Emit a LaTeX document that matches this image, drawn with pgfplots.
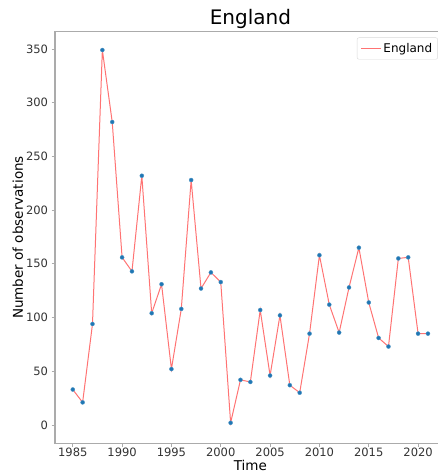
\documentclass[border=0pt]{standalone}
\usepackage{pgfplots}
\pgfplotsset{compat=1.18}
\usepackage{fontspec}
\setmainfont{DejaVu Sans}
\definecolor{spine}{HTML}{ABABAB}
\definecolor{mplblue}{HTML}{1F77B4}
\definecolor{ticktext}{HTML}{333333}

\pgfplotstableread{
year count
1985 33
1986 21
1987 94
1988 349
1989 282
1990 156
1991 143
1992 232
1993 104
1994 131
1995 52
1996 108
1997 228
1998 127
1999 142
2000 133
2001 2
2002 42
2003 40
2004 107
2005 46
2006 102
2007 37
2008 30
2009 85
2010 158
2011 112
2012 86
2013 128
2014 165
2015 114
2016 81
2017 73
2018 155
2019 156
2020 85
2021 85
}\englanddata

\begin{document}
\begin{tikzpicture}[x=1pt,y=1pt]
\useasboundingbox (-55,-29.3) rectangle (383,443.7);
\clip (-55,-29.3) rectangle (383,443.7);
\begin{axis}[
  at={(0,0)}, anchor=south west,
  scale only axis,
  width=390.7pt, height=412.4pt,
  xmin=1983.2, xmax=2022.8,
  ymin=-17.45, ymax=366.45,
  xtick={1985,1990,...,2020},
  ytick={0,50,...,350},
  /pgf/number format/set thousands separator={},
  /pgf/number format/assume math mode=true,
  tick align=outside,
  tick pos=left,
  major tick length=3.5pt,
  tick style={spine, line width=0.8pt},
  axis line style={spine, line width=1.5pt},
  ticklabel style={font=\fontsize{11.5}{13}\selectfont, text=ticktext},
  xticklabel style={inner sep=1pt},
  xlabel={Time},
  ylabel={Number of observations},
  label style={font=\fontsize{13.5}{15}\selectfont},
  xlabel style={at={(axis description cs:0.5,0)}, anchor=south, yshift=-27.3pt, inner sep=0pt},
  ylabel style={yshift=-4pt},
  title={England},
  title style={font=\fontsize{20}{24}\selectfont, yshift=-7pt},
  legend style={at={(0.98,0.985)}, anchor=north east, draw=black!15, rounded corners=2pt,
    font=\fontsize{12}{14}\selectfont, inner sep=3.5pt},
  legend cell align=left,
  legend image code/.code={\draw[#1] (0pt,0pt) -- (0.7cm,0pt);},
]
\addplot[red!55!white, line width=1pt, mark=*, mark size=2pt,
  mark options={fill=mplblue, draw=mplblue!80!white, line width=0.4pt}]
  table[x=year, y=count] {\englanddata};
\addlegendentry{England}
\end{axis}
\end{tikzpicture}
\end{document}
